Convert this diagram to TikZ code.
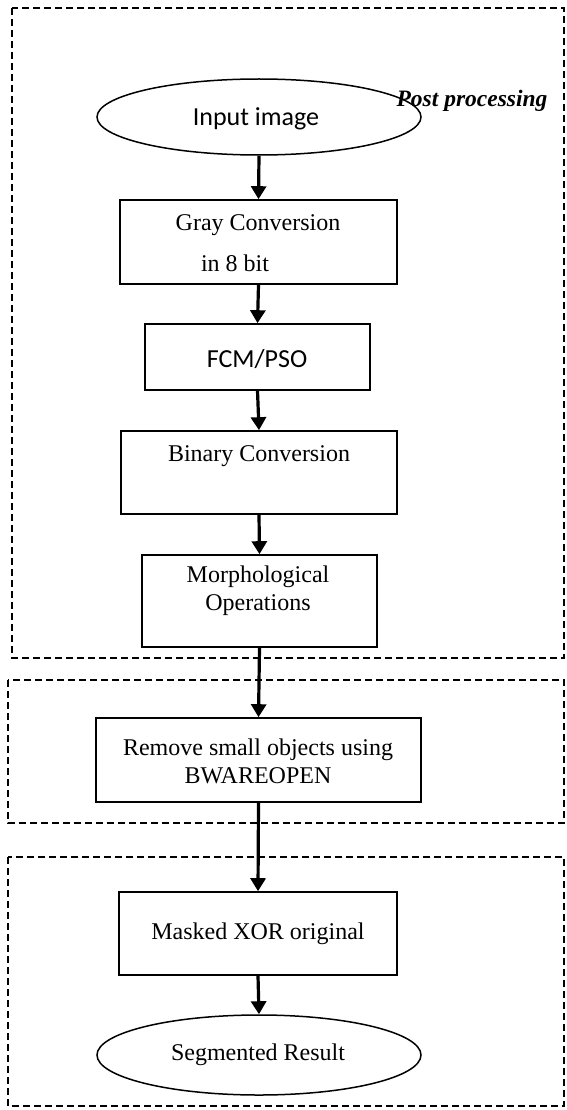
\documentclass[tikz,border=0pt]{standalone}
\usepackage{fontspec}
\setmainfont{Liberation Serif}
\newfontfamily\carlfont{Carlito}
\usetikzlibrary{shapes.geometric,arrows.meta}
\tikzset{
  procbox/.style={draw, line width=1.6pt, rectangle, inner sep=0pt},
  termbox/.style={draw, line width=1.5pt, ellipse, inner sep=0pt},
  groupbox/.style={draw, line width=2.8pt, dash pattern=on 7pt off 4pt},
  txt/.style={inner sep=0pt, font=\fontsize{24}{28}\selectfont, align=center},
  ctxt/.style={inner sep=0pt, font=\carlfont\fontsize{26}{30}\selectfont, align=center},
  flow/.style={line width=3.2pt, -{Triangle[length=13pt,width=15pt]}}
}
\begin{document}
\begin{tikzpicture}[x=1pt,y=-1pt]
\useasboundingbox (0,0) rectangle (567,1110);
% group frames
\draw[groupbox] (12,8) rectangle (564,658);
\draw[groupbox] (8,680) rectangle (564,823);
\draw[groupbox] (8,857) rectangle (564,1106);
% nodes
\node[termbox, minimum width=324pt, minimum height=76pt] (in) at (259,117) {};
\node[ctxt] (intext) at (256,119) {Input image};
\node[txt, font=\bfseries\itshape\fontsize{23.5}{28}\selectfont] (post) at (472,101) {Post processing};
\node[procbox, minimum width=277pt, minimum height=84pt] (gray) at (258.5,242) {};
\node[txt] (graytxt1) at (258,225) {Gray Conversion};
\node[txt] (graytxt2) at (235,263) {in 8 bit};
\node[procbox, minimum width=225pt, minimum height=66pt] (fcm) at (257.5,357) {};
\node[ctxt] (fcmtxt) at (257,359) {FCM/PSO};
\node[procbox, minimum width=276pt, minimum height=83pt] (bin) at (259,472.5) {};
\node[txt] (bintxt) at (259,456) {Binary Conversion};
\node[procbox, minimum width=235pt, minimum height=92pt] (morph) at (259.5,601) {};
\node[txt] (morphtxt) at (258,591) {Morphological\\Operations};
\node[procbox, minimum width=325pt, minimum height=84pt] (rem) at (258.5,760) {};
\node[txt] (remtxt) at (258,761) {Remove small objects using\\BWAREOPEN};
\node[procbox, minimum width=278pt, minimum height=83pt] (mask) at (258,933.5) {};
\node[txt] (masktxt) at (258,934) {Masked XOR original};
\node[termbox, minimum width=324pt, minimum height=80pt] (seg) at (259,1055) {};
\node[txt] (segtxt) at (258,1055) {Segmented Result};
% connectors
\draw[flow] (in.south) -- (gray.north);
\draw[flow] (gray.south) -- (fcm.north);
\draw[flow] (fcm.south) -- (bin.north);
\draw[flow] (bin.south) -- (morph.north);
\draw[flow] (morph.south) -- (rem.north);
\draw[flow] (rem.south) -- (mask.north);
\draw[flow] (mask.south) -- (seg.north);
\end{tikzpicture}
\end{document}
